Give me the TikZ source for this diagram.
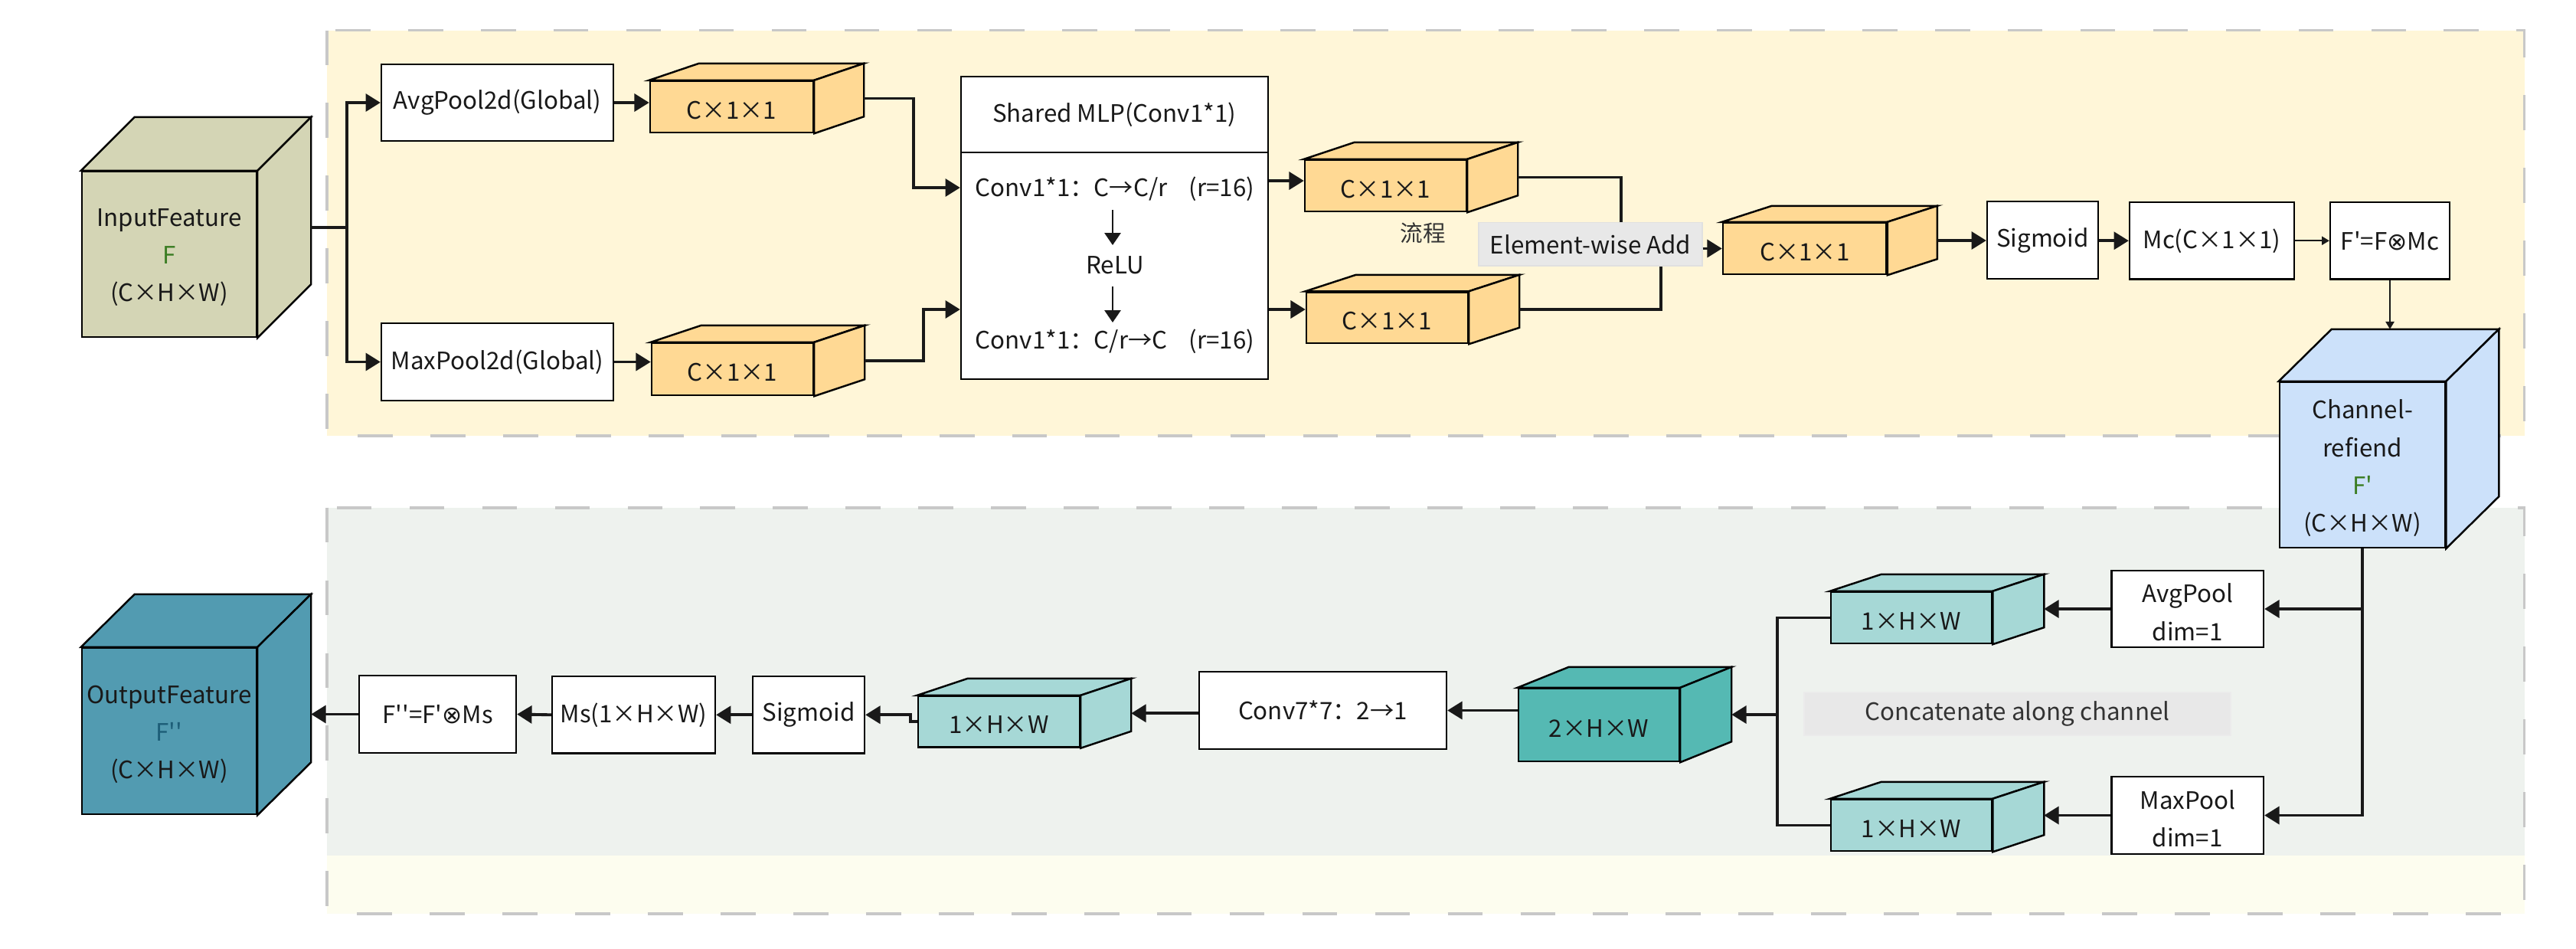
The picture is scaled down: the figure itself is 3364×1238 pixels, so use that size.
\documentclass[tikz,border=0pt]{standalone}
\usepackage{fontspec}
\setmainfont{Noto Sans CJK SC}[Ligatures=TeXOff]
\newfontfamily\dejavu{DejaVu Sans}
\usetikzlibrary{arrows.meta,fit,calc}
\definecolor{topfill}{HTML}{FFF6D8}
\definecolor{botfill}{HTML}{EEF2EE}
\definecolor{botfilltwo}{HTML}{FDFDEF}
\definecolor{dashgray}{HTML}{C8C8C8}
\definecolor{inputc}{HTML}{D4D5B5}
\definecolor{orangec}{HTML}{FFD994}
\definecolor{tealc}{HTML}{55B9B3}
\definecolor{ltealc}{HTML}{A6D8D6}
\definecolor{outc}{HTML}{529BB1}
\definecolor{chc}{HTML}{CCE1FA}
\definecolor{grayboxc}{HTML}{E8E8E8}
\definecolor{greenF}{HTML}{3B7D23}
\definecolor{tealF}{HTML}{1D5E78}
% box: [opts for label], name, x1,y1,x2,y2,text
\newcommand\mybox[7][]{%
  \node[box,fit={(#3,#4)(#5,#6)}] (#2) {};
  \node[lbl,#1] (#2-l) at (#2.center) {#7};}
% cube: [opts for label], name, x1,y1,x2,y2,dx,dy,color,text  (text given after via \cubetext)
\newcommand\mycube[9]{%
  \node[cubeface,fill=#8,fit={(#2,#3)(#4,#5)}] (#1) {};
  \filldraw[cubeedge,fill=#8] (#1.north west) -- ++(#6,-#7) -- ([shift={(#6,-#7)}]#1.north east) -- (#1.north east) -- cycle;
  \filldraw[cubeedge,fill=#8] (#1.north east) -- ++(#6,-#7) -- ([shift={(#6,-#7)}]#1.south east) -- (#1.south east) -- cycle;
  \coordinate (#1-r) at ([shift={(#6,-#7/2)}]#1.east);
  \coordinate (#1-t) at ([shift={(#6,-#7)}]#1.north);
  \node[lbl,multi] (#1-l) at (#1.center) {#9};
}
\begin{document}
\begin{tikzpicture}[x=0.01cm,y=-0.01cm,
  every node/.style={font=\fontsize{8.9pt}{14pt}\selectfont, text=black!90},
  lbl/.style={inner sep=0pt, align=center},
  multi/.style={yshift=-1.2pt},
  box/.style={draw=black, line width=0.65pt, fill=white, inner sep=0pt},
  cubeface/.style={draw=black, line width=0.7pt, inner sep=0pt},
  cubeedge/.style={draw=black, line width=0.7pt},
  conn/.style={line width=1.1pt, draw=black!90},
  arr/.style={conn, -{Triangle[length=5.5pt,width=6.5pt]}},
  thinarr/.style={line width=0.45pt, draw=black!90, -{Triangle[length=2.8pt,width=3.2pt]}},
  midarr/.style={line width=0.55pt, draw=black!90, -{Triangle[length=4.5pt,width=6pt]}},
  dashst/.style={draw=dashgray, line width=1.1pt, dash pattern=on 13pt off 14pt},
]
\useasboundingbox (0,0) rectangle (3364,1238);
\fill[white] (0,0) rectangle (3364,1238);

% panels
\fill[topfill] (427,39.5) rectangle (3296.5,569);
\draw[dashst] (427,39.5) rectangle (3296.5,569);
\fill[botfill] (427,662.6) rectangle (3296.5,1117);
\fill[botfilltwo] (427,1117) rectangle (3296.5,1193);
\draw[dashst] (427,662.6) rectangle (3296.5,1193);

% ---------- top row ----------
\mycube{in}{107}{224}{335}{440}{70}{70}{inputc}{InputFeature\\{\color{greenF}F}\\(C×H×W)}
\mybox{avg}{498}{84}{801}{184}{AvgPool2d(Global)}
\mybox{maxp}{498}{422}{801}{523}{MaxPool2d(Global)}
\mycube{cA}{849}{106}{1062}{173}{65}{22}{orangec}{C×1×1}
\mycube{cB}{851}{448}{1062}{516}{66}{22}{orangec}{C×1×1}

\node[box,fit={(1255,100)(1656,495)}] (mlp) {};
\coordinate (mlpdiv) at (1255,199);
\draw[line width=0.65pt] (mlp.west |- mlpdiv) -- (mlp.east |- mlpdiv);
\node[lbl] (mlpt) at (1455,149.5) {Shared MLP(Conv1*1)};
\node[lbl] (c1) at (1456,247) {Conv1*1：C→C/r\hspace{8pt}(r=16)};
\node[lbl] (relu) at (1456,346) {ReLU};
\node[lbl] (c2) at (1456,446) {Conv1*1：C/r→C\hspace{8pt}(r=16)};
\draw[midarr] ([shift={(-3,27)}]c1.center) -- ([shift={(-3,-26)}]relu.center);
\draw[midarr] ([shift={(-3,28)}]relu.center) -- ([shift={(-3,-25)}]c2.center);

\mycube{cC}{1704}{209}{1915}{276}{66}{22}{orangec}{C×1×1}
\mycube{cD}{1706}{381.5}{1917}{448}{66}{21.5}{orangec}{C×1×1}
\node[lbl, font=\fontsize{8.4pt}{10pt}\selectfont, text=black!80] (liucheng) at (1858,304.5) {流程};
\node[fill=grayboxc, draw=black!12, line width=0.4pt, inner sep=0pt, fit={(1931,290.6)(2223,347)}] (ewa) {};
\node[lbl] (ewa-l) at (ewa.center) {Element-wise Add};
\mycube{cE}{2250}{291}{2463.5}{358}{65}{21}{orangec}{C×1×1}
\mybox{sigA}{2595}{263}{2740}{364}{Sigmoid}
\mybox{mc}{2781}{264}{2996}{364.5}{Mc(C×1×1)}
\mybox{fp}{3043}{264}{3199}{364.5}{F'=F{\dejavu ⊗}Mc}

% ---------- bottom row ----------
\mycube{ch}{2977}{499}{3193}{715}{69}{68}{chc}{Channel-\\refiend\\{\color{greenF}F'}\\(C×H×W)}
\mybox[multi]{apool}{2757.5}{745}{2956}{845}{AvgPool\\dim=1}
\mybox[multi]{mpool}{2757.5}{1014}{2956}{1115}{MaxPool\\dim=1}
\mycube{cF}{2391}{773}{2601}{840}{67}{22}{ltealc}{1×H×W}
\mycube{cG}{2391}{1044}{2601}{1111}{67}{22}{ltealc}{1×H×W}
\node[fill=grayboxc, draw=black!8, line width=0.4pt, inner sep=0pt, fit={(2356,904)(2913,960)}] (concat) {};
\node[lbl, text=black!80] (concat-l) at (concat.center) {Concatenate along channel};
\mycube{cH}{1983}{899}{2193}{994}{67}{27}{tealc}{2×H×W}
\mybox{conv}{1566}{877}{1889}{978}{Conv7*7：2→1}
\mycube{cI}{1199}{909}{1410}{975.5}{66}{22}{ltealc}{1×H×W}
\mybox{sigB}{983}{883}{1129}{983.5}{Sigmoid}
\mybox{ms}{721}{883}{934}{983.5}{Ms(1×H×W)}
\mybox{fpp}{469}{882}{674}{983}{F''=F'{\dejavu ⊗}Ms}
\mycube{out}{107}{846}{335}{1063}{70}{69}{outc}{OutputFeature\\{\color{tealF}F''}\\(C×H×W)}

% ---------- connectors (top) ----------
\coordinate (j1) at ($(in-r)+(47,0)$);
\draw[conn] (in-r) -- (j1);
\draw[arr] (j1) |- (avg.west);
\draw[arr] (j1) |- (maxp.west);
\draw[arr] (avg.east) -- (avg.east -| cA.west);
\draw[arr] (maxp.east) -- (maxp.east -| cB.west);
\coordinate (ya) at (0,236);
\coordinate (yb) at (0,245);
\coordinate (yc) at (0,404);
\draw[arr] (cA-r) -- ++(65,0) |- (mlp.west |- yb);
\draw[arr] (cB-r) -- ++(77,0) |- (mlp.west |- yc);
\draw[arr] (mlp.east |- ya) -- (cC.west |- ya);
\draw[arr] (mlp.east |- yc) -- (cD.west |- yc);
\draw[conn] (cC-r) -| ([shift={(40,0)}]ewa.north);
\draw[conn] (cD-r) -| ([shift={(92,0)}]ewa.south);
\draw[arr] (ewa.east |- cE.west) -- (cE.west);
\draw[arr] (cE-r) -- (cE-r -| sigA.west);
\draw[arr] (sigA.east |- mc.west) -- (mc.west);
\draw[thinarr] (mc.east) -- (mc.east -| fp.west);
\draw[thinarr] (fp.south) -- (fp.south |- ch-t);

% ---------- connectors (bottom) ----------
\draw[arr] (ch.south |- apool.east) -- (apool.east);
\draw[arr] (ch.south) |- (mpool.east);
\draw[arr] (apool.west) -- (apool.west -| cF-r);
\draw[arr] (mpool.west) -- (mpool.west -| cG-r);
\coordinate (j2) at ($(cF.west)+(-68.5,0)$);
\draw[conn] (cF.west) -- (j2) |- (cG.west);
\draw[arr] (j2 |- cH-r) -- (cH-r);
\draw[arr] (cH.west |- conv.east) -- (conv.east);
\draw[arr] (conv.west |- cI-r) -- (cI-r);
\draw[arr] (cI.west) -- ++(-9,0) |- (sigB.east);
\draw[arr] (sigB.west) -- (ms.east);
\draw[arr] (ms.west) -- (fpp.east);
\draw[arr] (fpp.west) -- (fpp.west -| out-r);
\end{tikzpicture}
\end{document}
